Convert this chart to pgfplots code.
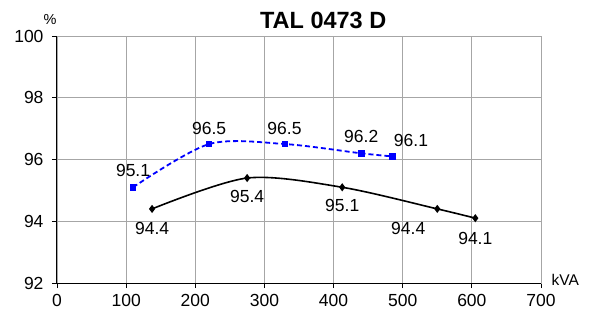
\documentclass[border=0pt]{standalone}
\usepackage{fontspec}
\setmainfont{Liberation Sans}
\usepackage{pgfplots}
\pgfplotsset{compat=1.18}
\usetikzlibrary{calc}
\begin{document}
\begin{tikzpicture}
\begin{axis}[name=ax,
  scale only axis, width=484bp, height=247bp,
  xmin=0, xmax=700, ymin=92, ymax=100,
  xtick={0,100,...,700}, ytick={92,94,...,100},
  grid=major, grid style={draw=black!35, line width=0.8bp},
  axis line style={draw=black!35, line width=0.8bp},
  tick align=outside, tick style={black, line width=0.8bp},
  major tick length=5bp,
  xtick pos=bottom, ytick pos=left,
  /pgf/number format/assume math mode=true,
  tick label style={font=\fontsize{17.5bp}{20bp}\selectfont},
  yticklabel style={xshift=-5bp},
  xticklabel style={yshift=-3bp},
  clip=false,
]
\draw[black, line width=1bp] (rel axis cs:0,1) -- (rel axis cs:0,0) -- (rel axis cs:1,0);
\addplot[blue, line width=1.8bp, dash pattern=on 5bp off 3bp, smooth,
  mark=square*, mark size=2.4bp, mark options={solid}] coordinates {
  (110,95.1) (220,96.5) (330,96.5) (440,96.2) (485,96.1)};
\addplot[black, line width=1.6bp, smooth,
  mark=diamond*, mark size=2.8bp] coordinates {
  (137.5,94.4) (275,95.4) (412.5,95.1) (550,94.4) (605,94.1)};
\begin{scope}[every node/.style={font=\fontsize{17.5bp}{20bp}\selectfont, inner sep=0pt}]
\node at (axis cs:110,95.63) {95.1};
\node at (axis cs:220,97.0) {96.5};
\node at (axis cs:329,97.0) {96.5};
\node at (axis cs:440,96.73) {96.2};
\node at (axis cs:512,96.62) {96.1};
\node at (axis cs:137.5,93.78) {94.4};
\node at (axis cs:275,94.8) {95.4};
\node at (axis cs:412.5,94.5) {95.1};
\node at (axis cs:508,93.78) {94.4};
\node at (axis cs:605,93.45) {94.1};
\end{scope}
\node[font=\fontsize{14.5bp}{16bp}\selectfont, inner sep=0pt] at (axis cs:-10,100.52) {\%};
\node[font=\fontsize{15.5bp}{18bp}\selectfont, inner sep=0pt] at (axis cs:735,92.1) {kVA};
\node[font=\bfseries\fontsize{23.5bp}{26bp}\selectfont, inner sep=0pt] at (axis cs:385,100.52) {TAL 0473 D};
\end{axis}
\pgfresetboundingbox
\path ($(ax.south west)+(-57bp,-36bp)$) rectangle ($(ax.north east)+(52bp,36bp)$);
\end{tikzpicture}
\end{document}
